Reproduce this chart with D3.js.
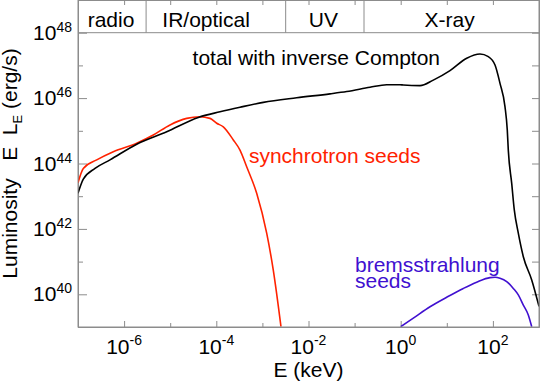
<!DOCTYPE html>
<html lang="en">
<head>
<meta charset="UTF-8" />
<title>Luminosity spectrum</title>
<script src="https://d3js.org/d3.v7.min.js"></script>
<style>
  body { margin: 0; background: #fff; }
  svg { display: block; font-family: "Liberation Sans", Arial, Helvetica, sans-serif; }
</style>
</head>
<body>
<svg id="chart" width="540" height="383"></svg>
<script>
// curves as log10 values
const totalLogE = [-7.0, -6.885, -6.631, -6.306, -5.727, -5.076, -4.390, -3.920, -3.486, -2.980, -2.256, -1.534, -1.171, -0.666, -0.304, -0.015, 0.056, 0.419, 0.707, 1.069, 1.432, 1.720, 1.900, 2.046, 2.154, 2.262, 2.312, 2.334, 2.408, 2.464, 2.551, 2.660, 2.842, 3.0];
const totalLogL = [43.09, 43.52, 43.85, 44.11, 44.59, 44.97, 45.41, 45.58, 45.72, 45.87, 46.01, 46.13, 46.20, 46.33, 46.41, 46.41, 46.40, 46.38, 46.55, 46.84, 47.22, 47.35, 47.27, 47.01, 46.45, 45.74, 45.02, 44.41, 43.39, 42.58, 41.87, 41.15, 40.44, 39.63];

const synchLogE = [-7.0, -6.885, -6.594, -6.234, -5.727, -5.367, -5.004, -4.642, -4.354, -4.137, -3.991, -3.848, -3.631, -3.486, -3.341, -3.124, -2.907, -2.764, -2.597];
const synchLogL = [43.41, 43.85, 44.11, 44.36, 44.62, 44.87, 45.18, 45.38, 45.43, 45.38, 45.23, 45.12, 44.72, 44.41, 43.90, 43.09, 41.87, 40.74, 39.01];

const bremsLogE = [0.0, 0.274, 0.636, 0.998, 1.358, 1.648, 1.937, 2.046, 2.154, 2.299, 2.443, 2.551, 2.660, 2.768, 2.842];
const bremsLogL = [39.01, 39.27, 39.62, 39.91, 40.18, 40.37, 40.51, 40.52, 40.49, 40.39, 40.18, 39.98, 39.67, 39.37, 39.01];

const bandNames = ["radio", "IR/optical", "UV", "X-ray"];
const bandEdges = [3e-6, 3.2e-3, 0.16];
const bandLabelE = [5.2e-7, 6e-5, 0.021, 11.5];

const xExps = [-7, -6, -5, -4, -3, -2, -1, 0, 1, 2, 3];
const yExps = [39, 40, 41, 42, 43, 44, 45, 46, 47, 48, 49];

const margin = { top: 0, right: 1, bottom: 56, left: 78 };
const width = 540 - margin.left - margin.right;
const height = 383 - margin.top - margin.bottom;
const gray = "#8c8c8c";
const red = "#ff2200";
const blue = "#4010d0";
const fs = 21;

const svg = d3.select("#chart");
const g = svg.append("g").attr("transform", `translate(${margin.left},${margin.top})`);

const x = d3.scaleLog().domain([1e-7, 1e3]).range([0, width]);
const y = d3.scaleLog().domain([1e39, 1e49]).range([height, 0]);

const toPts = (es, ls) => es.map((e, i) => [Math.pow(10, e), Math.pow(10, ls[i])]);

g.append("clipPath").attr("id", "clip")
  .append("rect").attr("width", width).attr("height", height);

// band strip
g.append("line")
  .attr("x1", 0).attr("x2", width)
  .attr("y1", y(1e48)).attr("y2", y(1e48))
  .attr("stroke", gray);
g.selectAll(".band-div")
  .data(bandEdges)
  .enter()
  .append("line")
  .attr("x1", d => x(d)).attr("x2", d => x(d))
  .attr("y1", 0).attr("y2", y(1e48))
  .attr("stroke", gray);
g.selectAll(".band-label")
  .data(bandNames)
  .enter()
  .append("text")
  .attr("x", (d, i) => x(bandLabelE[i]))
  .attr("y", 27)
  .attr("text-anchor", "middle")
  .attr("font-size", fs)
  .text(d => d);

// axes, ticks pointing inward
const decade = v => Math.pow(10, v);
const xMajor = xExps.filter(e => e % 2 === 0).map(decade);
const xMinor = xExps.filter(e => e % 2 !== 0).map(decade);
const yMajor = yExps.filter(e => e % 2 === 0).map(decade);
const yMinor = yExps.filter(e => e % 2 !== 0).map(decade);

function styleAxis(sel) {
  sel.select(".domain").attr("stroke", gray);
  sel.selectAll(".tick line").attr("stroke", gray);
  sel.selectAll(".tick text").remove();
}

g.append("g").attr("transform", `translate(0,${height})`)
  .call(d3.axisBottom(x).tickValues(xMajor).tickSize(-6).tickSizeOuter(0).tickFormat(""))
  .call(styleAxis);
g.append("g").attr("transform", `translate(0,${height})`)
  .call(d3.axisBottom(x).tickValues(xMinor).tickSize(-4).tickSizeOuter(0).tickFormat(""))
  .call(styleAxis);
g.append("g")
  .call(d3.axisTop(x).tickValues(xMajor.concat(xMinor)).tickSize(-5).tickSizeOuter(0).tickFormat(""))
  .call(styleAxis);
g.append("g")
  .call(d3.axisLeft(y).tickValues(yMajor).tickSize(-9).tickSizeOuter(0).tickFormat(""))
  .call(styleAxis);
g.append("g")
  .call(d3.axisLeft(y).tickValues(yMinor).tickSize(-5).tickSizeOuter(0).tickFormat(""))
  .call(styleAxis);
g.append("g").attr("transform", `translate(${width},0)`)
  .call(d3.axisRight(y).tickValues(yMajor.concat(yMinor)).tickSize(-7).tickSizeOuter(0).tickFormat(""))
  .call(styleAxis);

// tick labels with superscripts
const xl = g.selectAll(".xlab")
  .data(xExps.filter(e => e % 2 === 0 && e > -7 && e < 3))
  .enter()
  .append("text")
  .attr("x", d => x(decade(d)))
  .attr("y", height + 27)
  .attr("text-anchor", "middle")
  .attr("font-size", fs);
xl.append("tspan").text("10");
xl.append("tspan").attr("dy", -9).attr("font-size", 14).text(d => d < 0 ? "-" + (-d) : d);

const yl = g.selectAll(".ylab")
  .data(yExps.filter(e => e % 2 === 0))
  .enter()
  .append("text")
  .attr("x", -6)
  .attr("y", d => y(decade(d)) + 7)
  .attr("text-anchor", "end")
  .attr("font-size", fs);
yl.append("tspan").text("10");
yl.append("tspan").attr("dy", -8).attr("font-size", 14).text(d => d);

// axis titles
g.append("text")
  .attr("x", width / 2)
  .attr("y", height + 50)
  .attr("text-anchor", "middle")
  .attr("font-size", fs)
  .text("E (keV)");

const yt = svg.append("text")
  .attr("transform", `translate(17,${margin.top + height / 2}) rotate(-90)`)
  .attr("text-anchor", "middle")
  .attr("font-size", fs)
  .style("white-space", "pre");
yt.append("tspan").text("Luminosity   E  L");
yt.append("tspan").attr("dy", 5).attr("font-size", 13).text("E");
yt.append("tspan").attr("dy", -5).text(" (erg/s)");

// curves
const line = d3.line()
  .x(d => x(d[0]))
  .y(d => y(d[1]))
  .curve(d3.curveMonotoneX);

const curves = g.append("g").attr("clip-path", "url(#clip)");
curves.append("path")
  .datum(toPts(bremsLogE, bremsLogL))
  .attr("d", line).attr("fill", "none").attr("stroke", blue).attr("stroke-width", 1.6);
curves.append("path")
  .datum(toPts(synchLogE, synchLogL))
  .attr("d", line).attr("fill", "none").attr("stroke", red).attr("stroke-width", 1.6);
curves.append("path")
  .datum(toPts(totalLogE, totalLogL))
  .attr("d", line).attr("fill", "none").attr("stroke", "#000").attr("stroke-width", 1.6);

// frame
g.append("rect")
  .attr("x", 0).attr("y", 0.5).attr("width", width).attr("height", height - 0.5)
  .attr("fill", "none").attr("stroke", gray);

// annotations
g.append("text")
  .attr("x", x(3.06e-5)).attr("y", y(1.02e47))
  .attr("font-size", fs)
  .text("total with inverse Compton");
g.append("text")
  .attr("x", x(5.1e-4)).attr("y", y(1.05e44))
  .attr("font-size", fs).attr("fill", red)
  .text("synchrotron seeds");
const bl = g.append("text")
  .attr("x", x(0.102)).attr("y", y(4.9e40))
  .attr("font-size", fs).attr("fill", blue);
bl.append("tspan").text("bremsstrahlung");
bl.append("tspan").attr("x", x(0.102)).attr("dy", 16).text("seeds");
</script>
</body>
</html>
